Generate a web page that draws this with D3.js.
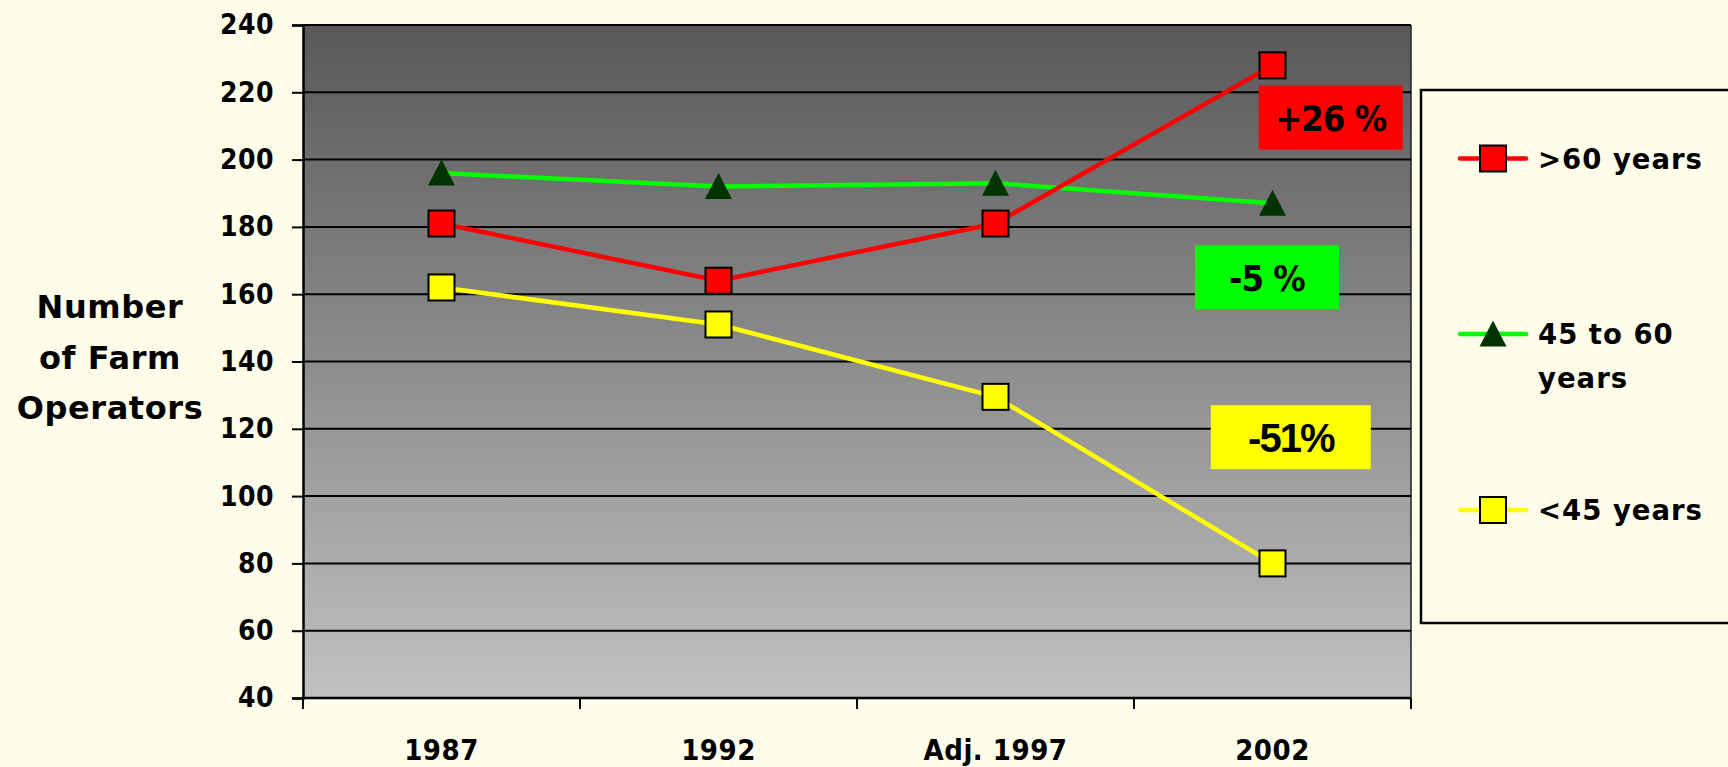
<!DOCTYPE html>
<html>
<head>
<meta charset="utf-8">
<script src="https://cdn.jsdelivr.net/npm/d3@7"></script>
<style>
  body { margin: 0; background: #fdfde9; overflow: hidden; }
  svg text { font-family: "DejaVu Sans", sans-serif; font-weight: bold; fill: #000; }
</style>
</head>
<body>
<svg id="chart" width="1728" height="767"></svg>
<script>
// values
const years = ["1987", "1992", "Adj. 1997", "2002"];
const over60 = [181, 164, 181, 228];
const from45to60 = [196, 192, 193, 187];
const under45 = [162, 151, 129.5, 80];
const yTicks = [40, 60, 80, 100, 120, 140, 160, 180, 200, 220, 240];
const seriesNames = [">60 years", "45 to 60 years", "<45 years"];
const changeLabels = ["+26 %", "-5 %", "-51%"];
// centre of each change box, in chart units (value) and band offset from 2002
const changeValues = [212.5, 165, 117.5];
const changeShift = [0.21, -0.02, 0.066];

const svg = d3.select("#chart");
const margin = {top: 25, right: 317, bottom: 69, left: 303};
const width = 1728, height = 767;

const x = d3.scaleBand(years, [margin.left, width - margin.right]);
const y = d3.scaleLinear([40, 240], [height - margin.bottom, margin.top]);

// plot background gradient
const defs = svg.append("defs");
const grad = defs.append("linearGradient")
  .attr("id", "bg").attr("x1", 0).attr("x2", 0).attr("y1", 0).attr("y2", 1);
grad.append("stop").attr("offset", "0%").attr("stop-color", "#585858");
grad.append("stop").attr("offset", "100%").attr("stop-color", "#c1c1c1");

svg.append("rect")
  .attr("x", x.range()[0]).attr("y", y(240))
  .attr("width", x.range()[1] - x.range()[0])
  .attr("height", y(40) - y(240))
  .attr("fill", "url(#bg)");

// right edge of plot
svg.append("line")
  .attr("x1", x.range()[1]).attr("x2", x.range()[1])
  .attr("y1", y(240)).attr("y2", y(40))
  .attr("stroke", "#222").attr("stroke-width", 1.5);

// gridlines
svg.append("g").selectAll("line")
  .data(yTicks)
  .join("line")
    .attr("x1", x.range()[0]).attr("x2", x.range()[1])
    .attr("y1", d => y(d)).attr("y2", d => y(d))
    .attr("stroke", "#000").attr("stroke-width", 2);

// y axis
const yAxis = d3.axisLeft(y).tickValues(yTicks).tickSize(11).tickPadding(18);
const yG = svg.append("g")
  .attr("transform", `translate(${margin.left},0)`)
  .call(yAxis);
yG.select(".domain").attr("stroke", "#000").attr("stroke-width", 2.5);
yG.selectAll(".tick line").attr("stroke", "#000").attr("stroke-width", 2);
yG.selectAll(".tick text")
  .style("font-family", "'DejaVu Sans Condensed', 'DejaVu Sans', sans-serif")
  .style("font-stretch", "condensed")
  .style("font-weight", "bold")
  .style("font-size", "28px")
  .style("letter-spacing", "0.5px")
  .attr("fill", "#000");

// x axis: ticks on band edges, labels under band centres
const edges = years.map(d => x(d)).concat([x.range()[1]]);
const xG = svg.append("g");
xG.append("line")
  .attr("x1", x.range()[0] - 1).attr("x2", x.range()[1])
  .attr("y1", y(40)).attr("y2", y(40))
  .attr("stroke", "#000").attr("stroke-width", 2.5);
xG.selectAll("line.tick")
  .data(edges)
  .join("line")
    .attr("class", "tick")
    .attr("x1", d => d).attr("x2", d => d)
    .attr("y1", y(40)).attr("y2", y(40) + 11)
    .attr("stroke", "#000").attr("stroke-width", 2);
xG.selectAll("text")
  .data(years)
  .join("text")
    .attr("x", d => x(d) + x.bandwidth() / 2)
    .attr("y", 760)
    .attr("text-anchor", "middle")
    .style("font-family", "'DejaVu Sans Condensed', 'DejaVu Sans', sans-serif")
    .style("font-stretch", "condensed")
    .style("font-size", "29px")
    .style("letter-spacing", "0.5px")
    .text(d => d);

// y title
svg.append("text")
  .attr("x", 110).attr("y", 318)
  .attr("text-anchor", "middle")
  .style("font-size", "32px")
  .style("letter-spacing", "0.6px")
  .selectAll("tspan")
  .data(["Number", "of Farm", "Operators"])
  .join("tspan")
    .attr("x", 110)
    .attr("dy", (d, i) => i === 0 ? 0 : 50.5)
    .text(d => d);

// series
const series = [
  {name: seriesNames[1], values: from45to60, line: "#00ff00", fill: "#003300", shape: "triangle"},
  {name: seriesNames[0], values: over60, line: "#ff0000", fill: "#ff0000", shape: "square"},
  {name: seriesNames[2], values: under45, line: "#ffff00", fill: "#ffff00", shape: "square"}
];
const cx = (d, i) => x(years[i]) + x.bandwidth() / 2;
const line = d3.line().x(cx).y(d => y(d));

const tri = "M0,-13.5L13.5,12.5L-13.5,12.5Z";
const drawMarker = (sel, s) => {
  if (s.shape === "square") {
    sel.append("rect")
      .attr("x", -13).attr("y", -13).attr("width", 26).attr("height", 26)
      .attr("fill", s.fill).attr("stroke", "#000").attr("stroke-width", 2);
  } else {
    sel.append("path").attr("d", tri).attr("fill", s.fill);
  }
};

series.forEach(s => {
  svg.append("path")
    .datum(s.values)
    .attr("d", line)
    .attr("fill", "none")
    .attr("stroke", s.line)
    .attr("stroke-width", 4.5);
});
series.forEach(s => {
  svg.append("g").selectAll("g")
    .data(s.values)
    .join("g")
      .attr("transform", (d, i) => `translate(${cx(d, i)},${y(d)})`)
      .each(function() { drawMarker(d3.select(this), s); });
});

// change boxes
const boxes = [
  {fill: "#ff0000", w: 144, font: "'DejaVu Sans Condensed', 'DejaVu Sans', sans-serif", size: 36, spacing: -1, cap: 0.73},
  {fill: "#00ff00", w: 144, font: "'DejaVu Sans Condensed', 'DejaVu Sans', sans-serif", size: 36, spacing: -1, cap: 0.73},
  {fill: "#ffff00", w: 160, font: "'Liberation Sans', Arial, sans-serif", size: 40, spacing: -2, cap: 0.72}
];
const last = years[years.length - 1];
boxes.forEach((b, i) => {
  const bx = x(last) + x.bandwidth() / 2 + changeShift[i] * x.bandwidth();
  const by = y(changeValues[i]);
  svg.append("rect")
    .attr("x", bx - b.w / 2).attr("y", by - 32)
    .attr("width", b.w).attr("height", 64)
    .attr("fill", b.fill);
  svg.append("text")
    .attr("x", bx).attr("y", by + b.size * b.cap / 2)
    .attr("text-anchor", "middle")
    .style("font-family", b.font)
    .style("font-stretch", i < 2 ? "condensed" : "normal")
    .style("font-size", b.size + "px")
    .style("letter-spacing", b.spacing + "px")
    .text(changeLabels[i]);
});

// legend
const legend = svg.append("g");
legend.append("rect")
  .attr("x", 1421).attr("y", 90)
  .attr("width", 400).attr("height", 533)
  .attr("fill", "#fdfde9")
  .attr("stroke", "#000").attr("stroke-width", 2.5);
const legendItems = [
  {s: series[1], lines: [">60 years"], cy: 158.5},
  {s: series[0], lines: ["45 to 60", "years"], cy: 334},
  {s: series[2], lines: ["<45 years"], cy: 510}
];
legendItems.forEach(it => {
  const g = legend.append("g");
  g.append("line")
    .attr("x1", 1460).attr("x2", 1526)
    .attr("y1", it.cy).attr("y2", it.cy)
    .attr("stroke", it.s.line).attr("stroke-width", 4.5)
    .attr("stroke-linecap", "round");
  drawMarker(g.append("g").attr("transform", `translate(1493,${it.cy})`), it.s);
  const t = g.append("text")
    .attr("x", 1538).attr("y", it.cy + 10)
    .style("font-size", "27.5px")
    .style("letter-spacing", "1px");
  t.selectAll("tspan")
    .data(it.lines)
    .join("tspan")
      .attr("x", 1538)
      .attr("dy", (d, i) => i === 0 ? 0 : 44)
      .text(d => d);
});
</script>
</body>
</html>
